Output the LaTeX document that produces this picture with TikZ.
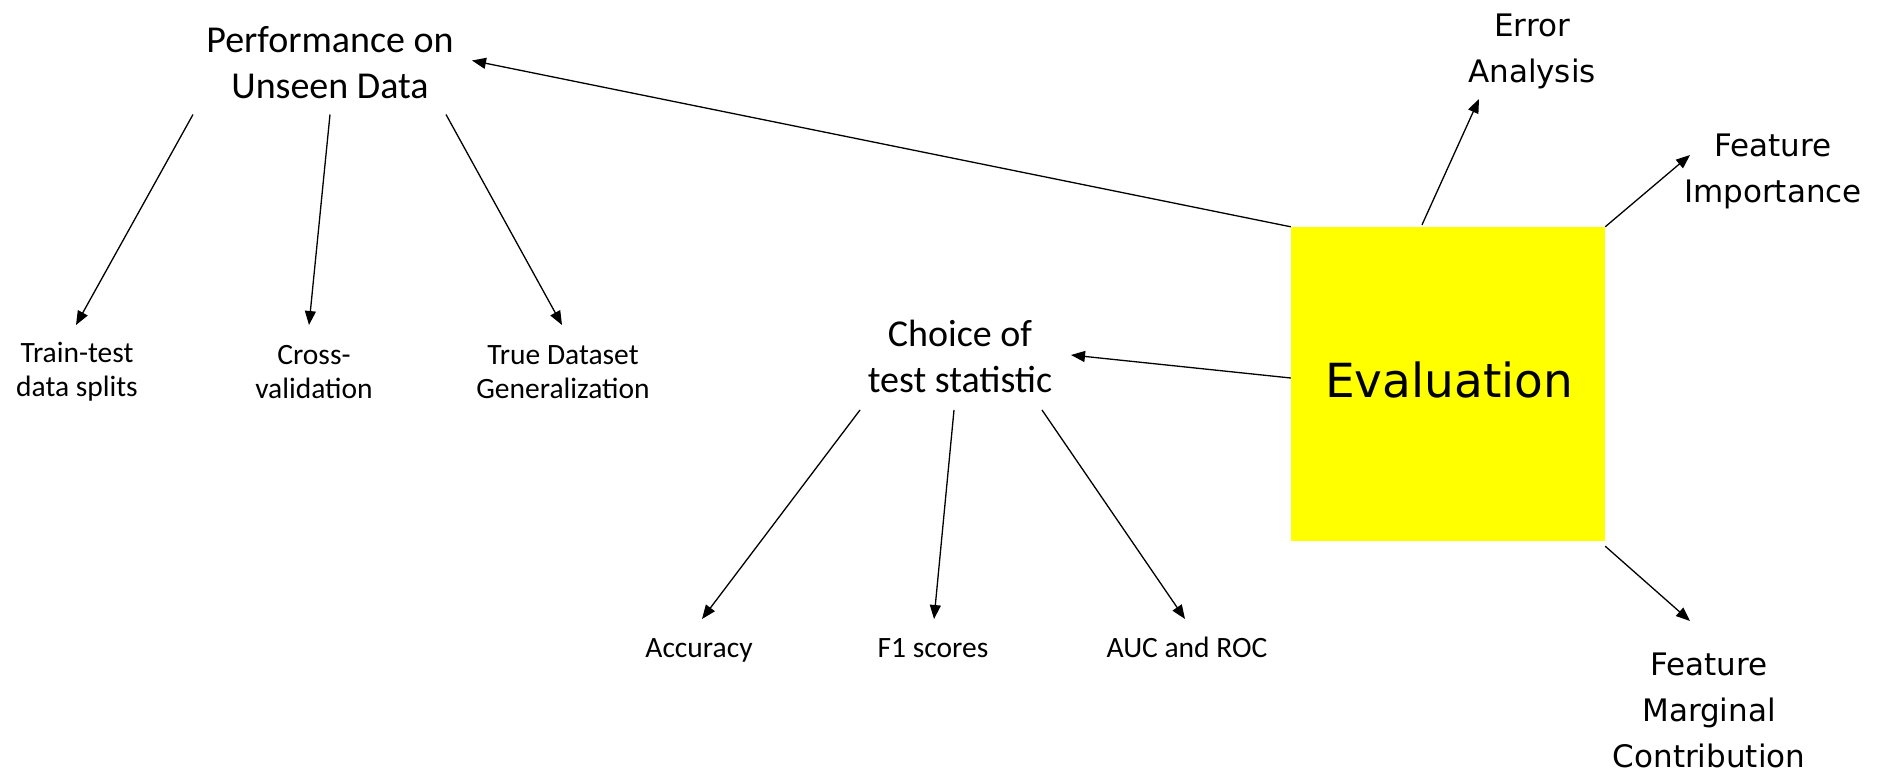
\documentclass[tikz,border=0pt]{standalone}
\usepackage{fontspec}
\setmainfont{Carlito}
\newfontfamily\vfont{DejaVu Sans}
\usetikzlibrary{arrows.meta,calc}
\begin{document}
\begin{tikzpicture}[x=1pt,y=-1pt,
  lbl/.style={align=center,inner sep=0pt,font=\fontsize{38}{46}\selectfont},
  leaf/.style={align=center,inner sep=0pt,font=\fontsize{29.5}{34}\selectfont},
  sleaf/.style={leaf,text height=21pt,text depth=7pt},
  rlbl/.style={align=center,inner sep=0pt,font=\vfont\fontsize{31}{46}\selectfont},
  evalbox/.style={fill={rgb,255:red,255;green,255;blue,0},minimum width=314pt,minimum height=314pt,inner sep=0pt},
  evaltext/.style={inner sep=0pt,font=\vfont\fontsize{47}{56}\selectfont},
  arr/.style={line width=1.3pt,-{Triangle[length=14pt,width=11pt]}}]
\useasboundingbox (0,0) rectangle (1887,771);

\node[lbl] (perf) at (330,62.5) {Performance on\\Unseen Data};
\node[leaf] (tts) at (77,372) {Train-test\\data splits};
\node[leaf] (cv) at (314,372) {Cross-\\validation};
\node[leaf] (tdg) at (563,372) {True Dataset\\Generalization};

\node[lbl] (choice) at (960,356) {Choice of\\test statistic};
\node[sleaf] (acc) at (699,650) {Accuracy};
\node[sleaf] (f1) at (933,650) {F1 scores};
\node[sleaf] (auc) at (1187,650) {AUC and ROC};

\node[evalbox] (eval) at (1448,384) {};
\node[evaltext] (evaltxt) at (1449,380) {Evaluation};
\node[rlbl] (err) at (1532,51) {Error\\Analysis};
\node[rlbl] (fimp) at (1773,171) {Feature\\Importance};
\node[rlbl] (fmc) at (1709,710) {Feature\\Marginal\\Contribution};

\draw[arr] (eval.north west) -- ($(perf)+(142,-2)$);
\draw[arr] ($(perf)+(-137,52)$) -- ($(tts)+(-1,-47)$);
\draw[arr] ($(perf)+(0,52)$) -- ($(cv)+(-5,-47)$);
\draw[arr] ($(perf)+(116,52)$) -- ($(tdg)+(-1,-47)$);

\draw[arr] ($(eval.west)+(0,-6)$) -- ($(choice)+(111,-1)$);
\draw[arr] ($(choice)+(-100,54)$) -- ($(acc)+(3,-31)$);
\draw[arr] ($(choice)+(-6,54)$) -- ($(f1)+(1,-31)$);
\draw[arr] ($(choice)+(82,54)$) -- ($(auc)+(-2,-31)$);

\draw[arr] ($(eval.north)+(-26,-2)$) -- ($(err)+(-53,48)$);
\draw[arr] (eval.north east) -- ($(fimp)+(-83,-16)$);
\draw[arr] ($(eval.south east)+(0,5)$) -- ($(fmc)+(-19,-89)$);
\end{tikzpicture}
\end{document}
